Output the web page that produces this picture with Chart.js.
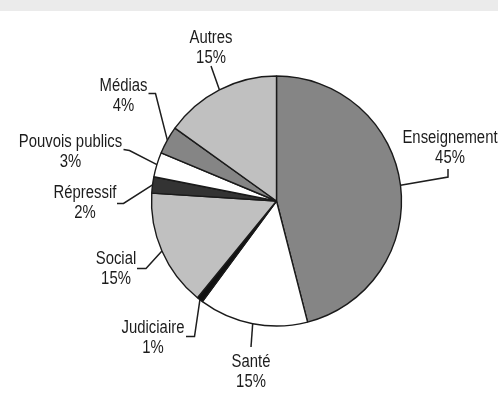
<!DOCTYPE html>
<html>
<head>
<meta charset="utf-8">
<script src="https://cdn.jsdelivr.net/npm/chart.js@4/dist/chart.umd.min.js"></script>
<style>
  html, body { margin: 0; padding: 0; background: #ffffff; }
  #wrap { position: relative; width: 498px; height: 401px; overflow: hidden; background: #ffffff; }
  #band { position: absolute; left: 0; top: 0; width: 498px; height: 11px; background: #ebebeb; }
  #c { position: absolute; left: 0; top: 0; }
</style>
</head>
<body>
<div id="wrap">
  <div id="band"></div>
  <canvas id="c" width="498" height="401"></canvas>
</div>
<script>
// ---- data ----
const categories = ['Enseignement', 'Santé', 'Judiciaire', 'Social', 'Répressif', 'Pouvois publics', 'Médias', 'Autres'];
const shares = [46, 14.1, 0.8, 15.1, 2.1, 3.2, 3.6, 15.1];
const shareLabels = ['45%', '15%', '1%', '15%', '2%', '3%', '4%', '15%'];

// ---- styles ----
const sliceColors = ['#858585', '#ffffff', '#111111', '#c0c0c0', '#333333', '#ffffff', '#858585', '#c0c0c0'];

// label layout: text centre x, first baseline y, leader polyline points (ending at slice edge)
const labelLayout = [
  { tx: 450, ty: 142.5, pts: [[448, 169], [448, 177]] },
  { tx: 251, ty: 367,   pts: [[251, 347]] },
  { tx: 153, ty: 332.5, pts: [[186, 336.5], [194.5, 336.5]] },
  { tx: 116, ty: 263.5, pts: [[137, 268.5], [146, 268.5]] },
  { tx: 85,  ty: 198,   pts: [[117, 203.5], [123.5, 203.5]] },
  { tx: 70.5,ty: 146.5, pts: [[123.5, 149.5], [129.5, 150.5]] },
  { tx: 123.5, ty: 90.5, pts: [[148.5, 93.5], [155.5, 93.5]] },
  { tx: 211, ty: 42.5,  pts: [[211, 66]] }
];

const labelPlugin = {
  id: 'pieLabels',
  afterDatasetsDraw(chart) {
    const ctx = chart.ctx;
    const meta = chart.getDatasetMeta(0);
    ctx.save();
    meta.data.forEach((arc, i) => {
      const p = arc.getProps(['x', 'y', 'startAngle', 'endAngle', 'outerRadius'], true);
      const mid = (p.startAngle + p.endAngle) / 2;
      const ex = p.x + Math.cos(mid) * p.outerRadius;
      const ey = p.y + Math.sin(mid) * p.outerRadius;
      const L = labelLayout[i];
      // leader
      ctx.beginPath();
      ctx.strokeStyle = '#1e1e1e';
      ctx.lineWidth = 1.5;
      ctx.lineJoin = 'miter';
      ctx.moveTo(L.pts[0][0], L.pts[0][1]);
      for (let k = 1; k < L.pts.length; k++) ctx.lineTo(L.pts[k][0], L.pts[k][1]);
      ctx.lineTo(ex, ey);
      ctx.stroke();
      // text
      ctx.fillStyle = '#1c1c1c';
      ctx.font = '17.5px "Liberation Sans", Arial, sans-serif';
      ctx.textAlign = 'center';
      ctx.textBaseline = 'alphabetic';
      [categories[i], shareLabels[i]].forEach((t, j) => {
        ctx.save();
        ctx.translate(L.tx, L.ty + j * 20);
        ctx.scale(0.85, 1);
        ctx.fillText(t, 0, 0);
        ctx.restore();
      });
    });
    ctx.restore();
  }
};

new Chart(document.getElementById('c'), {
  type: 'pie',
  data: {
    labels: categories,
    datasets: [{
      data: shares,
      backgroundColor: sliceColors,
      borderColor: '#1a1a1a',
      borderWidth: 1.4,
      radius: 125
    }]
  },
  options: {
    responsive: false,
    animation: false,
    layout: { padding: { left: 60, right: 5, top: 6, bottom: 5 } },
    plugins: {
      legend: { display: false },
      tooltip: { enabled: false },
      title: { display: false }
    }
  },
  plugins: [labelPlugin]
});
</script>
</body>
</html>
